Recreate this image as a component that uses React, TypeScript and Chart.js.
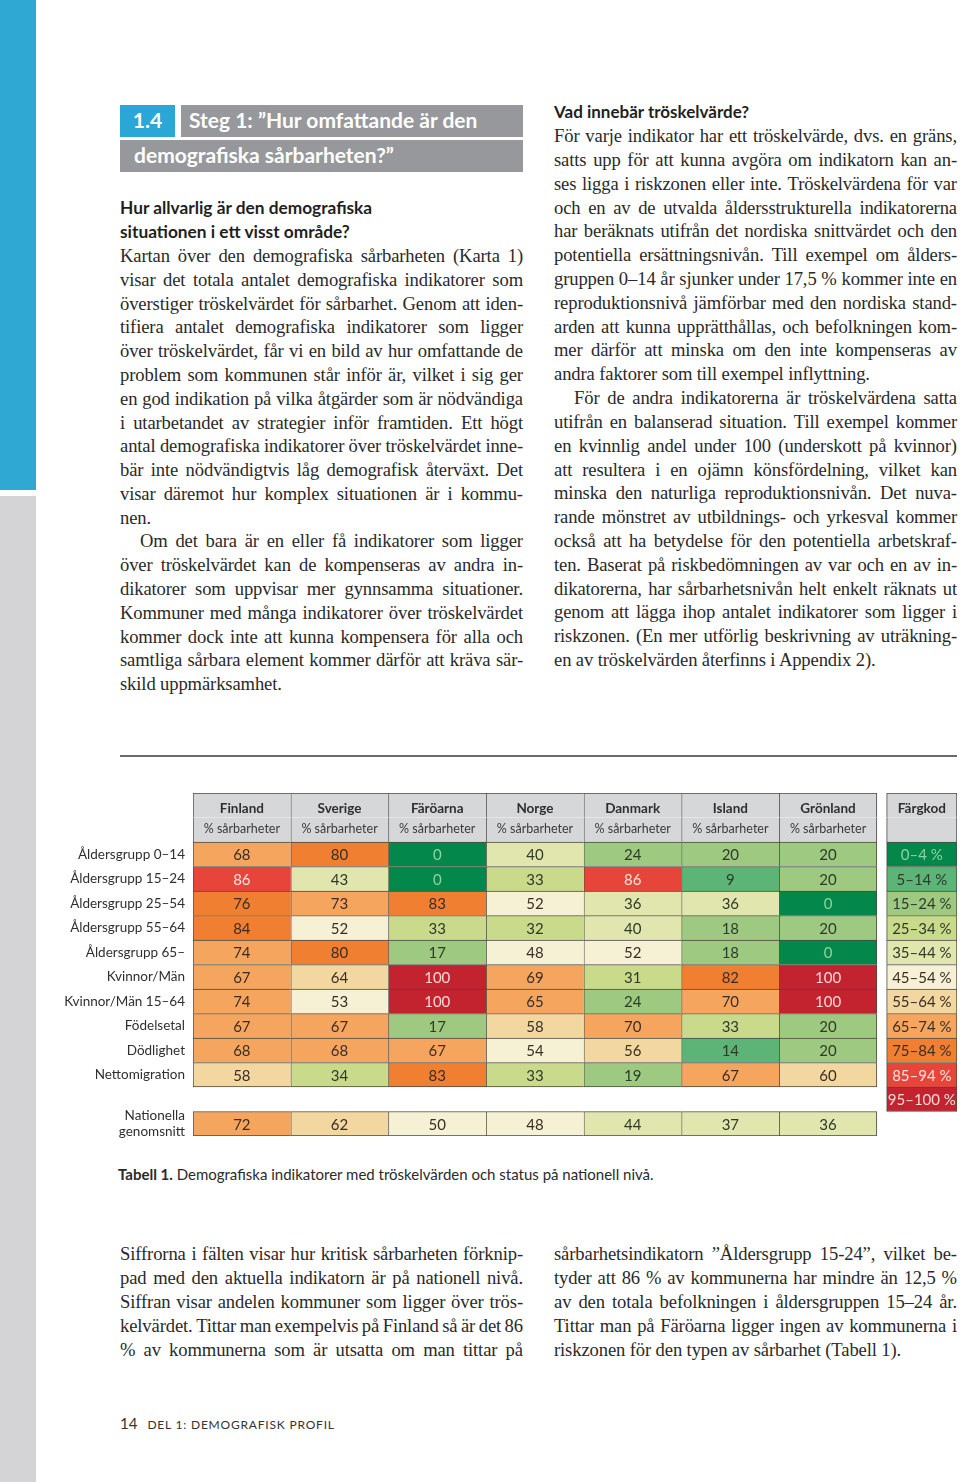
import React, { useEffect, useRef } from "react";
import { Chart, registerables } from "chart.js";

Chart.register(...registerables);

// ---------- DATA ----------
const countries = ["Finland", "Sverige", "Färöarna", "Norge", "Danmark", "Island", "Grönland"];
const subHeader = "% sårbarheter";
const indicators = [
  "Åldersgrupp 0–14",
  "Åldersgrupp 15–24",
  "Åldersgrupp 25–54",
  "Åldersgrupp 55–64",
  "Åldersgrupp 65–",
  "Kvinnor/Män",
  "Kvinnor/Män 15–64",
  "Födelsetal",
  "Dödlighet",
  "Nettomigration",
];
const nationalLabel = ["Nationella", "genomsnitt"];

const finland = [68, 86, 76, 84, 74, 67, 74, 67, 68, 58];
const sverige = [80, 43, 73, 52, 80, 64, 53, 67, 68, 34];
const faroarna = [0, 0, 83, 33, 17, 100, 100, 17, 67, 83];
const norge = [40, 33, 52, 32, 48, 69, 65, 58, 54, 33];
const danmark = [24, 86, 36, 40, 52, 31, 24, 70, 56, 19];
const island = [20, 9, 36, 18, 18, 82, 70, 33, 14, 67];
const gronland = [20, 20, 0, 20, 0, 100, 100, 20, 20, 60];
const columns = [finland, sverige, faroarna, norge, danmark, island, gronland];
const national = [72, 62, 50, 48, 44, 37, 36];

const legendTitle = "Färgkod";
const binLabels = ["0–4 %", "5–14 %", "15–24 %", "25–34 %", "35–44 %", "45–54 %", "55–64 %", "65–74 %", "75–84 %", "85–94 %", "95–100 %"];
const binUpper = [4, 14, 24, 34, 44, 54, 64, 74, 84, 94, 100];

// ---------- STYLE ----------
const binColors = ["#04874b", "#5db477", "#9ec981", "#c9da8b", "#e1e5ae", "#f6f1d4", "#f3d7a1", "#f6a55f", "#f07f31", "#e8453a", "#c3232f"];
const binText = ["#8fd3a3", "#2e3a2a", "#2e3a2a", "#2e3a2a", "#2e3a2a", "#3a2e24", "#3a2e24", "#3a2e24", "#3a2e24", "#fde3df", "#f8d8d8"];
const headerBg = "#d6d7d9";
const lineColor = "#4a4a40";
const SANS = "Lato, 'Open Sans', sans-serif";
const SERIF = "'Liberation Serif', 'DejaVu Serif', serif";
const BODY_SIZE = 18.6;

const binOf = (v: number) => binUpper.findIndex((u) => v <= u);

// y categories: 2 header rows, indicators, gap, national
const yLabels: any[] = ["", "", ...indicators, "", nationalLabel];
const HEAD0 = 0, HEAD1 = 1, FIRST = 2, LAST = 1 + indicators.length, GAP = LAST + 1, NAT = GAP + 1;
const LEG_START = countries.length + 0.1;
const LEG_END = countries.length + 0.82;

function HeatTable() {
  const ref = useRef<HTMLCanvasElement>(null);
  useEffect(() => {
    if (!ref.current) return;
    const datasets: any[] = countries.map((name, c) => {
      const data = yLabels.map((_, r) => (r === GAP ? null : [c, c + 1]));
      const texts = yLabels.map((_, r) => {
        if (r === HEAD0) return { t: name, bold: true };
        if (r === HEAD1) return { t: subHeader, small: true };
        if (r === NAT) return { t: String(national[c]), v: national[c] };
        if (r >= FIRST && r <= LAST) return { t: String(columns[c][r - FIRST]), v: columns[c][r - FIRST] };
        return null;
      });
      return {
        label: name,
        data,
        texts,
        grouped: false,
        borderSkipped: false,
        borderColor: lineColor,
        backgroundColor: texts.map((x: any, r: number) => (r <= HEAD1 ? headerBg : x ? binColors[binOf(x.v)] : "transparent")),
        borderWidth: (ctx: any) => {
          const r = ctx.dataIndex;
          const lastCol = c === countries.length - 1 ? 1 : 0;
          if (r === HEAD0) return { top: 1, left: 1, right: lastCol, bottom: 0 };
          if (r === HEAD1) return { top: 0, left: 1, right: lastCol, bottom: 0 };
          return { top: 1, left: 1, right: lastCol, bottom: r === LAST || r === NAT ? 1 : 0 };
        },
      };
    });
    const legTexts = yLabels.map((_, r) => {
      if (r === HEAD0) return { t: legendTitle, bold: true };
      if (r === HEAD1) return null;
      if (r >= FIRST && r <= GAP) return { t: binLabels[r - FIRST], bin: r - FIRST, legend: true };
      return null;
    });
    datasets.push({
      label: legendTitle,
      data: yLabels.map((_, r) => (r === NAT ? null : [LEG_START, LEG_END])),
      texts: legTexts,
      grouped: false,
      borderSkipped: false,
      borderColor: lineColor,
      backgroundColor: yLabels.map((_, r) => (r <= HEAD1 ? headerBg : r <= GAP ? binColors[r - FIRST] : "transparent")),
      borderWidth: (ctx: any) => {
        const r = ctx.dataIndex;
        if (r === HEAD0) return { top: 1, left: 1, right: 1, bottom: 0 };
        if (r === HEAD1) return { top: 0, left: 1, right: 1, bottom: 0 };
        return { top: 1, left: 1, right: 1, bottom: r === GAP ? 1 : 0 };
      },
    });

    const textPlugin = {
      id: "cellText",
      afterDatasetsDraw(chart: any) {
        const g = chart.ctx;
        g.save();
        g.textAlign = "center";
        g.textBaseline = "middle";
        chart.data.datasets.forEach((ds: any, di: number) => {
          const meta = chart.getDatasetMeta(di);
          meta.data.forEach((el: any, r: number) => {
            const info = ds.texts[r];
            if (!info) return;
            const cx = (el.x + el.base) / 2;
            let cy = el.y;
            if (info.bold) {
              g.font = `bold 13.5px ${SANS}`;
              g.fillStyle = "#2f2f2f";
              cy += 3;
            } else if (info.small) {
              g.font = `12.5px ${SANS}`;
              g.fillStyle = "#3a3a3a";
              cy -= 1;
            } else if (info.legend) {
              g.font = `15px ${SANS}`;
              g.fillStyle = binText[info.bin];
              cy += 1;
            } else {
              g.font = `15px ${SANS}`;
              g.fillStyle = binText[binOf(info.v)];
              cy += 1;
            }
            g.fillText(info.t, cx, cy);
          });
        });
        g.restore();
      },
    };

    const chart = new Chart(ref.current, {
      type: "bar",
      data: { labels: yLabels, datasets },
      options: {
        indexAxis: "y",
        animation: false,
        responsive: true,
        maintainAspectRatio: false,
        layout: { padding: { top: 12, bottom: 8, left: 0, right: 3 } },
        plugins: { legend: { display: false }, tooltip: { enabled: false } },
        datasets: { bar: { barPercentage: 1, categoryPercentage: 1 } },
        scales: {
          x: { type: "linear", min: 0, max: LEG_END, display: false },
          y: {
            type: "category",
            grid: { display: false, drawTicks: false },
            border: { display: false },
            ticks: {
              autoSkip: false,
              padding: 8,
              color: "#2f2f2f",
              font: { family: SANS, size: 13.5 },
            },
            afterFit: (s: any) => {
              s.width = 133;
              s.paddingTop = 0;
              s.paddingBottom = 0;
            },
          },
        },
      } as any,
      plugins: [textPlugin],
    });
    return () => chart.destroy();
  }, []);
  return (
    <div style={{ position: "absolute", left: 60, top: 781, width: 900, height: 363 }}>
      <canvas ref={ref} />
    </div>
  );
}

// ---------- TEXT ----------
type Line = { t: string; last?: boolean; indent?: boolean };

const leftHeading = ["Hur allvarlig är den demografiska", "situationen i ett visst område?"];
const leftBody: Line[] = [
  { t: "Kartan över den demografiska sårbarheten (Karta 1)" },
  { t: "visar det totala antalet demografiska indikatorer som" },
  { t: "överstiger tröskelvärdet för sårbarhet. Genom att iden-" },
  { t: "tifiera antalet demografiska indikatorer som ligger" },
  { t: "över tröskelvärdet, får vi en bild av hur omfattande de" },
  { t: "problem som kommunen står inför är, vilket i sig ger" },
  { t: "en god indikation på vilka åtgärder som är nödvändiga" },
  { t: "i utarbetandet av strategier inför framtiden. Ett högt" },
  { t: "antal demografiska indikatorer över tröskelvärdet inne-" },
  { t: "bär inte nödvändigtvis låg demografisk återväxt. Det" },
  { t: "visar däremot hur komplex situationen är i kommu-" },
  { t: "nen.", last: true },
  { t: "Om det bara är en eller få indikatorer som ligger", indent: true },
  { t: "över tröskelvärdet kan de kompenseras av andra in-" },
  { t: "dikatorer som uppvisar mer gynnsamma situationer." },
  { t: "Kommuner med många indikatorer över tröskelvärdet" },
  { t: "kommer dock inte att kunna kompensera för alla och" },
  { t: "samtliga sårbara element kommer därför att kräva sär-" },
  { t: "skild uppmärksamhet.", last: true },
];
const rightHeading = "Vad innebär tröskelvärde?";
const rightBody: Line[] = [
  { t: "För varje indikator har ett tröskelvärde, dvs. en gräns," },
  { t: "satts upp för att kunna avgöra om indikatorn kan an-" },
  { t: "ses ligga i riskzonen eller inte. Tröskelvärdena för var" },
  { t: "och en av de utvalda åldersstrukturella indikatorerna" },
  { t: "har beräknats utifrån det nordiska snittvärdet och den" },
  { t: "potentiella ersättningsnivån. Till exempel om ålders-" },
  { t: "gruppen 0–14 år sjunker under 17,5 % kommer inte en" },
  { t: "reproduktionsnivå jämförbar med den nordiska stand-" },
  { t: "arden att kunna upprätthållas, och befolkningen kom-" },
  { t: "mer därför att minska om den inte kompenseras av" },
  { t: "andra faktorer som till exempel inflyttning.", last: true },
  { t: "För de andra indikatorerna är tröskelvärdena satta", indent: true },
  { t: "utifrån en balanserad situation. Till exempel kommer" },
  { t: "en kvinnlig andel under 100 (underskott på kvinnor)" },
  { t: "att resultera i en ojämn könsfördelning, vilket kan" },
  { t: "minska den naturliga reproduktionsnivån. Det nuva-" },
  { t: "rande mönstret av utbildnings- och yrkesval kommer" },
  { t: "också att ha betydelse för den potentiella arbetskraf-" },
  { t: "ten. Baserat på riskbedömningen av var och en av in-" },
  { t: "dikatorerna, har sårbarhetsnivån helt enkelt räknats ut" },
  { t: "genom att lägga ihop antalet indikatorer som ligger i" },
  { t: "riskzonen. (En mer utförlig beskrivning av uträkning-" },
  { t: "en av tröskelvärden återfinns i Appendix 2).", last: true },
];
const bottomLeft: Line[] = [
  { t: "Siffrorna i fälten visar hur kritisk sårbarheten förknip-" },
  { t: "pad med den aktuella indikatorn är på nationell nivå." },
  { t: "Siffran visar andelen kommuner som ligger över trös-" },
  { t: "kelvärdet. Tittar man exempelvis på Finland så är det 86" },
  { t: "% av kommunerna som är utsatta om man tittar på" },
];
const bottomRight: Line[] = [
  { t: "sårbarhetsindikatorn ”Åldersgrupp 15-24”, vilket be-" },
  { t: "tyder att 86 % av kommunerna har mindre än 12,5 %" },
  { t: "av den totala befolkningen i åldersgruppen 15–24 år." },
  { t: "Tittar man på Färöarna ligger ingen av kommunerna i" },
  { t: "riskzonen för den typen av sårbarhet (Tabell 1).", last: true },
];

function TextBlock({ x, y0, lh, width, lines }: { x: number; y0: number; lh: number; width: number; lines: Line[] }) {
  return (
    <>
      {lines.map((l, i) => {
        const left = x + (l.indent ? 20 : 0);
        const w = width - (l.indent ? 20 : 0);
        const style: React.CSSProperties = {
          position: "absolute",
          left,
          width: w,
          top: y0 + i * lh - lh / 2,
          height: lh,
          lineHeight: `${lh}px`,
          fontFamily: SERIF,
          fontSize: BODY_SIZE,
          letterSpacing: -0.12,
          color: "#2a2a2a",
          whiteSpace: "nowrap",
        };
        if (l.last) return <div key={i} style={style}>{l.t}</div>;
        const words = l.t.split(" ");
        return (
          <div key={i} style={{ ...style, display: "flex", justifyContent: "space-between", columnGap: 3 }}>
            {words.map((w2, j) => (
              <span key={j}>{w2}</span>
            ))}
          </div>
        );
      })}
    </>
  );
}

export default function App() {
  return (
    <div style={{ position: "absolute", left: 0, top: 0, width: 960, height: 1482, background: "#fff", overflow: "hidden" }}>
      <div style={{ position: "absolute", left: 0, top: 0, width: 36, height: 490, background: "#2fa9d4" }} />
      <div style={{ position: "absolute", left: 0, top: 496, width: 36, height: 986, background: "#d4d4d6" }} />

      {/* section header */}
      <div style={{ position: "absolute", left: 120, top: 105, width: 55, height: 32, background: "#2aa7d7", color: "#fff", fontFamily: SANS, fontWeight: 700, fontSize: 21, lineHeight: "30px", textAlign: "center" }}>1.4</div>
      <div style={{ position: "absolute", left: 181, top: 105, width: 342, height: 32, background: "#97989b", color: "#fff", fontFamily: SANS, fontWeight: 700, fontSize: 21, lineHeight: "29px", paddingLeft: 8, boxSizing: "border-box", whiteSpace: "nowrap" }}>Steg 1: ”Hur omfattande är den</div>
      <div style={{ position: "absolute", left: 120, top: 140, width: 403, height: 32, background: "#97989b", color: "#fff", fontFamily: SANS, fontWeight: 700, fontSize: 21, lineHeight: "29px", paddingLeft: 14, boxSizing: "border-box", whiteSpace: "nowrap" }}>demografiska sårbarheten?”</div>

      {leftHeading.map((h, i) => (
        <div key={i} style={{ position: "absolute", left: 120, top: 208 + i * 23.8 - 12, height: 24, lineHeight: "24px", fontFamily: SANS, fontWeight: 700, fontSize: 17.3, color: "#1f1f1f", whiteSpace: "nowrap" }}>{h}</div>
      ))}
      <TextBlock x={120} y0={256} lh={23.78} width={403} lines={leftBody} />

      <div style={{ position: "absolute", left: 554, top: 112 - 12, height: 24, lineHeight: "24px", fontFamily: SANS, fontWeight: 700, fontSize: 17, color: "#1f1f1f", whiteSpace: "nowrap" }}>{rightHeading}</div>
      <TextBlock x={554} y0={136} lh={23.82} width={403} lines={rightBody} />

      <div style={{ position: "absolute", left: 120, top: 755, width: 837, height: 2, background: "#6a6a6a" }} />

      <HeatTable />

      <div style={{ position: "absolute", left: 118, top: 1174 - 10, height: 20, lineHeight: "20px", fontFamily: SANS, fontSize: 15, color: "#2a2a2a", whiteSpace: "nowrap" }}>
        <b>Tabell 1.</b> Demografiska indikatorer med tröskelvärden och status på nationell nivå.
      </div>

      <TextBlock x={120} y0={1254} lh={24} width={403} lines={bottomLeft} />
      <TextBlock x={554} y0={1254} lh={24} width={403} lines={bottomRight} />

      <div style={{ position: "absolute", left: 120, top: 1423 - 10, height: 20, lineHeight: "20px", whiteSpace: "nowrap", color: "#333" }}>
        <span style={{ fontFamily: SANS, fontSize: 15 }}>14</span>
        <span style={{ fontFamily: SANS, fontSize: 12, letterSpacing: 0.8, marginLeft: 10 }}>DEL 1: DEMOGRAFISK PROFIL</span>
      </div>
    </div>
  );
}
